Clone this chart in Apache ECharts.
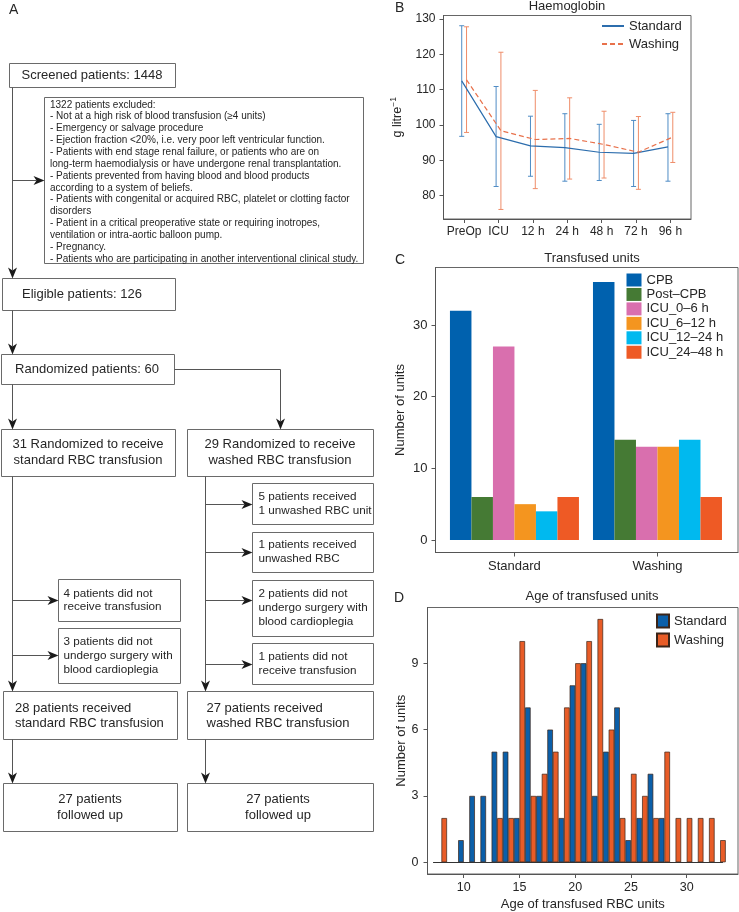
<!DOCTYPE html>
<html><head><meta charset="utf-8">
<script src="https://cdn.jsdelivr.net/npm/echarts@6/dist/echarts.min.js"></script>
<style>html,body{margin:0;padding:0;background:#fff}#c{width:739px;height:912px}</style>
</head><body><div id="c"></div>
<script>
// ---------- Panel B: Haemoglobin (g/L), mean with error bars ----------
const hbTimes = ['PreOp','ICU','12 h','24 h','48 h','72 h','96 h'];
const hbStdMean  = [112.5, 96.7, 94.1, 93.6, 92.3, 92.0, 93.8];
const hbStdLow   = [96.8, 82.6, 85.5, 84.1, 84.3, 82.6, 84.1];
const hbStdHigh  = [128.1, 110.9, 102.5, 103.2, 100.2, 101.3, 103.2];
const hbWashMean = [112.8, 98.4, 95.9, 96.2, 94.5, 92.3, 96.6];
const hbWashLow  = [97.9, 76.1, 82.0, 84.7, 85.0, 81.8, 89.4];
const hbWashHigh = [127.8, 120.6, 109.8, 107.7, 103.9, 102.4, 103.6];
const hbTicks = [80, 90, 100, 110, 120, 130];

// ---------- Panel C: Transfused units ----------
const unitGroups = ['Standard', 'Washing'];
const unitPeriods = ['CPB', 'Post\u2013CPB', 'ICU_0\u20136 h', 'ICU_6\u201312 h', 'ICU_12\u201324 h', 'ICU_24\u201348 h'];
const unitsStandard = [32, 6, 27, 5, 4, 6];
const unitsWashing  = [36, 14, 13, 13, 14, 6];
const unitTicks = [0, 10, 20, 30];

// ---------- Panel D: Age of transfused units ----------
const ageValues   = [8,9,10,11,12,13,14,15,16,17,18,19,20,21,22,23,24,25,26,27,28,29,30,31,32,33];
const ageStandard = [0,0,1,3,3,5,5,2,7,3,6,2,8,9,3,5,7,1,2,4,2,0,0,0,0,0];
const ageWashing  = [2,0,0,0,0,2,2,10,3,4,5,7,9,10,11,6,2,4,3,2,5,2,2,2,2,1];
const ageXTicks = [10, 15, 20, 25, 30];
const ageYTicks = [0, 3, 6, 9];

// ---------- Panel A: flow chart texts ----------
const flowText = {
  screened: ['Screened patients: 1448'],
  excluded: [
    '1322 patients excluded:',
    '- Not at a high risk of blood transfusion (\u22654 units)',
    '- Emergency or salvage procedure',
    '- Ejection fraction <20%, i.e. very poor left ventricular function.',
    '- Patients with end stage renal failure, or patients who are on',
    'long-term haemodialysis or have undergone renal transplantation.',
    '- Patients prevented from having blood and blood products',
    'according to a system of beliefs.',
    '- Patients with congenital or acquired RBC, platelet or clotting factor',
    'disorders',
    '- Patient in a critical preoperative state or requiring inotropes,',
    'ventilation or intra-aortic balloon pump.',
    '- Pregnancy.',
    '- Patients who are participating in another interventional clinical study.'
  ],
  eligible: ['Eligible patients: 126'],
  randomized: ['Randomized patients: 60'],
  armStd: ['31 Randomized to receive', 'standard RBC transfusion'],
  armWash: ['29 Randomized to receive', 'washed RBC transfusion'],
  s1: ['4 patients did not', 'receive transfusion'],
  s2: ['3 patients did not', 'undergo surgery with', 'blood cardioplegia'],
  w1: ['5 patients received', '1 unwashed RBC unit'],
  w2: ['1 patients received', 'unwashed RBC'],
  w3: ['2 patients did not', 'undergo surgery with', 'blood cardioplegia'],
  w4: ['1 patients did not', 'receive transfusion'],
  recStd: ['28 patients received', 'standard RBC transfusion'],
  recWash: ['27 patients received', 'washed RBC transfusion'],
  fuStd: ['27 patients', 'followed up'],
  fuWash: ['27 patients', 'followed up']
};

// ---------- layout / style ----------
const FONT = '"Liberation Sans", Arial, Helvetica, sans-serif';
const TXT = '#262626';
const AX = '#555';

const flowBoxes = [
  {key:'screened',  r:[9.5,63.5,166,24],   tx:92,    ty:75.5,  lh:0,    fs:13,  al:'center'},
  {key:'excluded',  r:[44.5,97.5,319,166], tx:50,    ty:104.8, lh:11.85,fs:10,  al:'left'},
  {key:'eligible',  r:[2.5,278.5,173,32],  tx:82,    ty:294.5, lh:0,    fs:13,  al:'center'},
  {key:'randomized',r:[1.5,354.5,173,30],  tx:87,    ty:369.5, lh:0,    fs:13,  al:'center'},
  {key:'armStd',    r:[1.5,429.5,174,47],  tx:88,    ty:444.5, lh:15.7, fs:13,  al:'center'},
  {key:'armWash',   r:[187.5,429.5,186,47],tx:280,   ty:444.5, lh:15.7, fs:13,  al:'center'},
  {key:'s1',        r:[58.5,579.5,122,42], tx:63.5,  ty:593.5, lh:13.5, fs:11.7,al:'left'},
  {key:'s2',        r:[58.5,628.5,122,55], tx:63.5,  ty:642,   lh:13.8, fs:11.7,al:'left'},
  {key:'w1',        r:[252.5,483.5,121,41],tx:258.5, ty:496.5, lh:14,   fs:11.7,al:'left'},
  {key:'w2',        r:[252.5,532.5,121,40],tx:258.5, ty:544.5, lh:14,   fs:11.7,al:'left'},
  {key:'w3',        r:[252.5,580.5,121,56],tx:258.5, ty:593.5, lh:14.2, fs:11.7,al:'left'},
  {key:'w4',        r:[252.5,643.5,121,41],tx:258.5, ty:657,   lh:14,   fs:11.7,al:'left'},
  {key:'recStd',    r:[3.5,691.5,174,48],  tx:15,    ty:708,   lh:15.6, fs:13,  al:'left'},
  {key:'recWash',   r:[187.5,691.5,186,48],tx:206.5, ty:708,   lh:15.6, fs:13,  al:'left'},
  {key:'fuStd',     r:[3.5,783.5,174,48],  tx:90,    ty:799.5, lh:15.6, fs:13,  al:'center'},
  {key:'fuWash',    r:[187.5,783.5,186,48],tx:278,   ty:799.5, lh:15.6, fs:13,  al:'center'}
];
const flowArrows = [
  [[12.5,87.5],[12.5,278.5]],
  [[12.5,180.5],[44.5,180.5]],
  [[12.5,310.5],[12.5,354.5]],
  [[12.5,384.5],[12.5,429.5]],
  [[174.5,369.5],[280.5,369.5],[280.5,429.5]],
  [[12.5,476.5],[12.5,691.5]],
  [[12.5,600.5],[58.5,600.5]],
  [[12.5,655.5],[58.5,655.5]],
  [[205.5,476.5],[205.5,691.5]],
  [[205.5,504.5],[252.5,504.5]],
  [[205.5,552.5],[252.5,552.5]],
  [[205.5,600.5],[252.5,600.5]],
  [[205.5,664.5],[252.5,664.5]],
  [[12.5,739.5],[12.5,783.5]],
  [[205.5,739.5],[205.5,783.5]]
];

function txt(x, y, s, fs, al, extra) {
  return Object.assign({type:'text', x:x, y:y, silent:true, z:10,
    style:{text:s, fontSize:fs, fontFamily:FONT, fill:TXT,
      textAlign:al, align:al, textVerticalAlign:'middle', verticalAlign:'middle'}}, extra || {});
}

function buildFlow() {
  const els = [];
  flowBoxes.forEach(b => {
    els.push({type:'rect', silent:true, z:5, shape:{x:b.r[0], y:b.r[1], width:b.r[2], height:b.r[3]},
      style:{fill:'#fff', stroke:'#6a6a6a', lineWidth:1}});
    flowText[b.key].forEach((t, i) => els.push(txt(b.tx, b.ty + i * b.lh, t, b.fs, b.al)));
  });
  const L = 11, W = 4.5, N = 3;
  flowArrows.forEach(pts => {
    const n = pts.length;
    const tip = pts[n - 1], prev = pts[n - 2];
    let dx = tip[0] - prev[0], dy = tip[1] - prev[1];
    const len = Math.hypot(dx, dy); dx /= len; dy /= len;
    const notch = [tip[0] - (L - N) * dx, tip[1] - (L - N) * dy];
    const back = [tip[0] - L * dx, tip[1] - L * dy];
    const px = -dy, py = dx;
    const line = pts.slice(0, n - 1).concat([notch]);
    els.push({type:'polyline', silent:true, z:6, shape:{points:line}, style:{stroke:'#555', lineWidth:1, fill:null}});
    els.push({type:'polygon', silent:true, z:7, shape:{points:[tip, [back[0] + W * px, back[1] + W * py], notch, [back[0] - W * px, back[1] - W * py]]},
      style:{fill:'#1a1a1a', stroke:null}});
  });
  // panel letters & titles
  els.push(txt(9, 10, 'A', 14, 'left'));
  els.push(txt(395, 8, 'B', 14, 'left'));
  els.push(txt(395, 260, 'C', 14, 'left'));
  els.push(txt(394, 598, 'D', 14, 'left'));
  els.push(txt(567, 6, 'Haemoglobin', 13, 'center'));
  els.push(txt(592, 258.5, 'Transfused units', 13, 'center'));
  els.push(txt(592, 596, 'Age of transfused units', 13, 'center'));
  return els;
}

const chart = echarts.init(document.getElementById('c'), null, {renderer:'canvas'});

function axisBase(extra) {
  return Object.assign({
    axisLine:{show:true, onZero:false, lineStyle:{color:AX, width:1}},
    splitLine:{show:false}
  }, extra);
}

// Panel B dodge for the two groups
const dodge = 0.07;
const cStd = '#2c6dad', cWash = '#e8714b', eStd = '#4f8cc5', eWash = '#ef8d69';

function errRender(color) {
  return function (params, api) {
    const x = api.value(0), lo = api.value(1), hi = api.value(2);
    const a = api.coord([x, hi]), b = api.coord([x, lo]);
    const cw = 2.5, st = {stroke:color, lineWidth:1};
    return {type:'group', children:[
      {type:'line', shape:{x1:a[0], y1:a[1], x2:b[0], y2:b[1]}, style:st},
      {type:'line', shape:{x1:a[0] - cw, y1:a[1], x2:a[0] + cw, y2:a[1]}, style:st},
      {type:'line', shape:{x1:b[0] - cw, y1:b[1], x2:b[0] + cw, y2:b[1]}, style:st}
    ]};
  };
}

const colorsC = ['#0061ae', '#457a34', '#d96fae', '#f4951f', '#00b9ef', '#ee5a25'];
const ageNames = {ageStd:'Standard', ageWash:'Washing'};

const series = [
  {type:'custom', name:'errStd', xAxisIndex:0, yAxisIndex:0, z:2,
    renderItem:errRender(eStd), encode:{x:0, y:[1, 2]},
    data:hbStdLow.map((lo, i) => [i - dodge, lo, hbStdHigh[i]])},
  {type:'custom', name:'errWash', xAxisIndex:0, yAxisIndex:0, z:2,
    renderItem:errRender(eWash), encode:{x:0, y:[1, 2]},
    data:hbWashLow.map((lo, i) => [i + dodge, lo, hbWashHigh[i]])},
  {type:'line', name:'Standard', xAxisIndex:0, yAxisIndex:0, z:3, symbol:'none', color:cStd,
    lineStyle:{color:cStd, width:1.2}, data:hbStdMean.map((v, i) => [i - dodge, v])},
  {type:'line', name:'Washing', xAxisIndex:0, yAxisIndex:0, z:3, symbol:'none', color:cWash,
    lineStyle:{color:cWash, width:1.2, type:[5, 3]}, data:hbWashMean.map((v, i) => [i + dodge, v])}
];
unitPeriods.forEach((p, k) => {
  series.push({type:'bar', name:p, xAxisIndex:1, yAxisIndex:1, barWidth:21.5, barGap:'0%',
    itemStyle:{color:colorsC[k]},
    data:unitGroups.map((g, gi) => [gi, gi === 0 ? unitsStandard[k] : unitsWashing[k]])});
});
series.push({type:'bar', name:'ageStd', xAxisIndex:2, yAxisIndex:2, barWidth:5.58, barGap:'0%',
  itemStyle:{color:'#0b5fa9', borderColor:'#3b2418', borderWidth:0.7},
  data:ageValues.map((a, i) => [a, ageStandard[i]]).filter(d => d[1] > 0),
  markLine:{silent:true, symbol:'none', label:{show:false}, lineStyle:{color:'#333', width:1, type:'solid'},
    data:[[{coord:[ageValues[0] - 0.5, 0]}, {coord:[ageValues[ageValues.length - 1] + 0.5, 0]}]]}});
series.push({type:'bar', name:'ageWash', xAxisIndex:2, yAxisIndex:2, barWidth:5.58, barGap:'0%',
  itemStyle:{color:'#e85c27', borderColor:'#3b2418', borderWidth:0.7},
  data:ageValues.map((a, i) => [a, ageWashing[i]]).filter(d => d[1] > 0)});

const gridStyle = {show:true, borderColor:'#666', borderWidth:1, backgroundColor:'transparent', containLabel:false, outerBoundsMode:'none'};

const option = {
  animation:false,
  backgroundColor:'#fff',
  textStyle:{fontFamily:FONT},
  grid:[
    Object.assign({left:443.5, top:15.5, width:247.5, height:203.5}, gridStyle),
    Object.assign({left:435.5, top:267.5, width:302.5, height:285}, gridStyle),
    Object.assign({left:427.5, top:607.5, width:310.5, height:266.5}, gridStyle)
  ],
  xAxis:[
    axisBase({type:'value', gridIndex:0, min:-0.6, max:6.6,
      axisTick:{show:true, inside:false, length:4, lineStyle:{color:AX}, customValues:hbTimes.map((t, i) => i)},
      axisLabel:{fontSize:12, color:TXT, margin:7, customValues:hbTimes.map((t, i) => i), formatter:v => hbTimes[Math.round(v)]}}),
    axisBase({type:'value', gridIndex:1, min:-0.552, max:1.563,
      axisTick:{show:true, inside:false, length:4, lineStyle:{color:AX}, customValues:unitGroups.map((g, i) => i)},
      axisLabel:{fontSize:13, color:TXT, margin:7, customValues:unitGroups.map((g, i) => i), formatter:v => unitGroups[Math.round(v)]}}),
    axisBase({type:'value', gridIndex:2, min:6.75, max:34.6,
      name:'Age of transfused RBC units', nameLocation:'middle', nameGap:24,
      nameTextStyle:{fontSize:13, color:TXT},
      axisTick:{show:true, inside:false, length:4, lineStyle:{color:AX}, customValues:ageXTicks},
      axisLabel:{fontSize:12.5, color:TXT, margin:7, customValues:ageXTicks}})
  ],
  yAxis:[
    axisBase({type:'value', gridIndex:0, min:73.4, max:131,
      name:'g litre{s|\u22121}', nameLocation:'middle', nameGap:37, nameRotate:90,
      nameTextStyle:{fontSize:12.5, color:TXT, rich:{s:{fontSize:8.5, color:TXT, padding:[0, 0, 8, 0]}}},
      axisTick:{show:true, inside:false, length:4, lineStyle:{color:AX}, customValues:hbTicks},
      axisLabel:{fontSize:12, color:TXT, margin:8, customValues:hbTicks}}),
    axisBase({type:'value', gridIndex:1, min:-1.744, max:38.02,
      name:'Number of units', nameLocation:'middle', nameGap:29, nameRotate:90,
      nameTextStyle:{fontSize:13, color:TXT},
      axisTick:{show:true, inside:false, length:4, lineStyle:{color:AX}, customValues:unitTicks},
      axisLabel:{fontSize:13, color:TXT, margin:8, customValues:unitTicks}}),
    axisBase({type:'value', gridIndex:2, min:-0.53, max:11.52,
      name:'Number of units', nameLocation:'middle', nameGap:20, nameRotate:90,
      nameTextStyle:{fontSize:13, color:TXT},
      axisTick:{show:true, inside:false, length:4, lineStyle:{color:AX}, customValues:ageYTicks},
      axisLabel:{fontSize:12.5, color:TXT, margin:9, customValues:ageYTicks}})
  ],
  legend:[
    {data:['Standard', 'Washing'], orient:'vertical', left:601, top:19.5, itemWidth:22, itemHeight:14, itemGap:5,
      selectedMode:false, textStyle:{fontSize:13, color:TXT}, padding:0,
      itemStyle:{opacity:0}, lineStyle:{opacity:1}},
    {data:unitPeriods, orient:'vertical', left:626.5, top:273.5, itemWidth:15, itemHeight:13, itemGap:1.45, icon:'rect',
      selectedMode:false, textStyle:{fontSize:13, color:TXT}, padding:0},
    {data:['ageStd', 'ageWash'], orient:'vertical', left:656, top:613.5, itemWidth:12, itemHeight:13, itemGap:4, icon:'rect',
      selectedMode:false, formatter:n => ageNames[n], textStyle:{fontSize:13, color:TXT}, padding:0}
  ],
  series:series,
  graphic:{elements:buildFlow()}
};
chart.setOption(option);
</script>
</body></html>
